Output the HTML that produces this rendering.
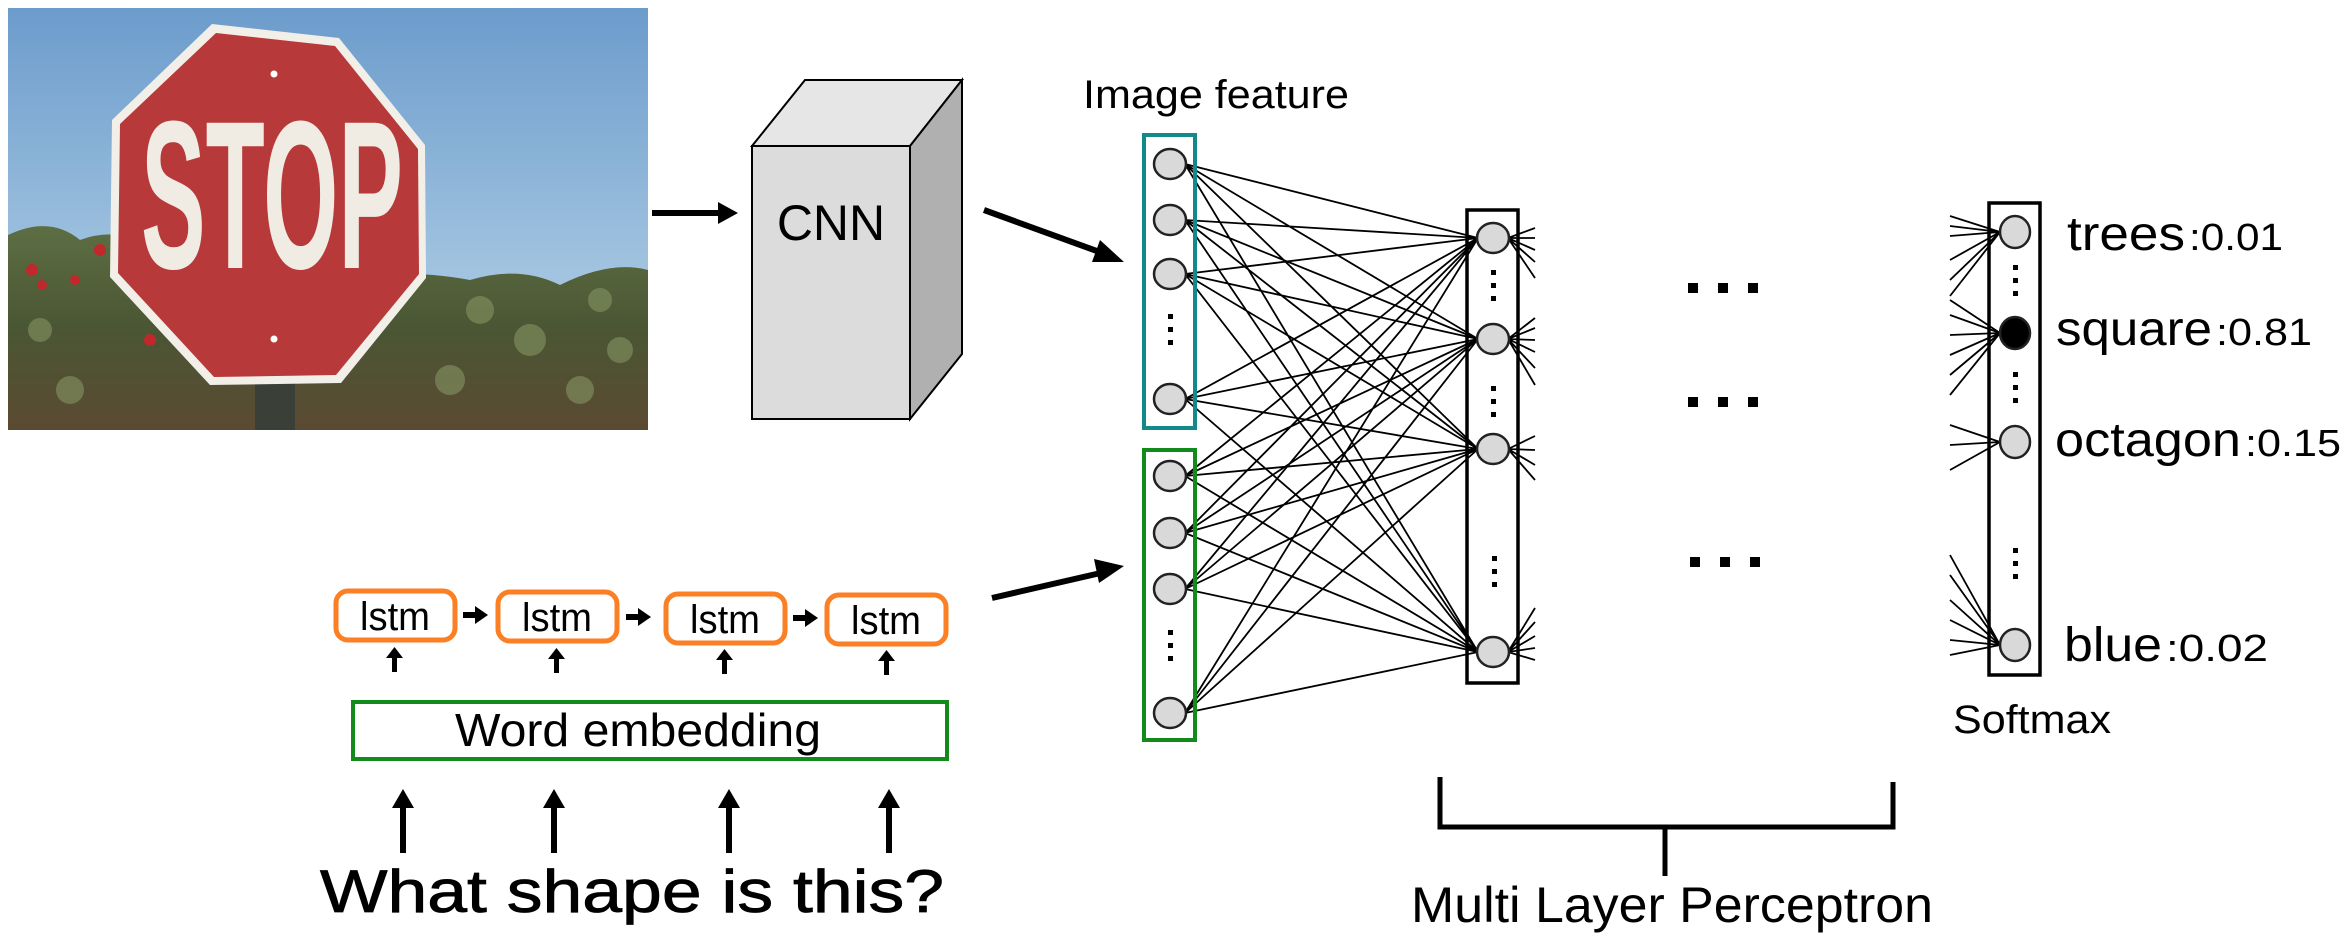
<!DOCTYPE html>
<html><head><meta charset="utf-8"><style>
html,body{margin:0;padding:0;background:#fff;}
svg{display:block;}
</style></head><body>
<svg width="2352" height="944" viewBox="0 0 2352 944" xmlns="http://www.w3.org/2000/svg">
<defs>
<linearGradient id="sky" x1="0" y1="0" x2="0" y2="1">
<stop offset="0" stop-color="#6c9ccc"/><stop offset="0.7" stop-color="#a8c8e2"/><stop offset="1" stop-color="#bcd6e8"/>
</linearGradient>
<linearGradient id="fol" x1="0" y1="0" x2="0" y2="1">
<stop offset="0" stop-color="#5d6e43"/><stop offset="0.5" stop-color="#4a5634"/><stop offset="1" stop-color="#5b4a32"/>
</linearGradient>
</defs>

<rect x="8" y="8" width="640" height="422" fill="url(#sky)"/>
<path d="M8,245 Q60,235 100,250 L160,245 L200,265 L8,280 z" fill="#7a8a98"/>
<path d="M8,235 Q50,215 80,240 Q120,225 160,250 Q260,275 340,275 Q420,270 470,280 Q520,265 560,285 Q610,260 648,270 L648,430 L8,430 z" fill="url(#fol)"/>
<g fill="#8a9a66" opacity="0.55">
<circle cx="480" cy="310" r="14"/><circle cx="530" cy="340" r="16"/><circle cx="600" cy="300" r="12"/><circle cx="450" cy="380" r="15"/><circle cx="580" cy="390" r="14"/><circle cx="620" cy="350" r="13"/><circle cx="40" cy="330" r="12"/><circle cx="70" cy="390" r="14"/>
</g>
<g fill="#c0282c"><circle cx="32" cy="270" r="6"/><circle cx="42" cy="285" r="5"/><circle cx="100" cy="250" r="6"/><circle cx="75" cy="280" r="5"/><circle cx="150" cy="340" r="6"/></g>
<rect x="255" y="380" width="40" height="50" fill="#3a4038"/>
<polygon points="212,24 339,38 425,145 426,278 341,383 210,385 110,277 112,120" fill="#f2efe8"/>
<polygon points="216,33 335,46 418,149 419,274 336,375 214,377 118,273 120,124" fill="#b8393a"/>
<text x="272" y="268" font-family="Liberation Sans, sans-serif" font-weight="bold" font-size="176" fill="#f0ece4" text-anchor="middle" textLength="262" lengthAdjust="spacingAndGlyphs" transform="translate(272,268) scale(1,1.2) translate(-272,-268)">STOP</text>
<circle cx="274" cy="74" r="3.5" fill="#fff"/><circle cx="274" cy="339" r="3.5" fill="#fff"/>

<line x1="652" y1="213" x2="722" y2="213" stroke="#000" stroke-width="6"/>
<polygon points="718,202 738,213 718,224" fill="#000"/>

<polygon points="752,146 805,80 962,80 910,146" fill="#e6e6e6" stroke="#000" stroke-width="2"/>
<polygon points="910,146 962,80 962,354 910,419" fill="#b0b0b0" stroke="#000" stroke-width="2"/>
<rect x="752" y="146" width="158" height="273" fill="#dcdcdc" stroke="#000" stroke-width="2"/>
<text x="831" y="240" font-family="Liberation Sans, sans-serif" font-size="50" text-anchor="middle">CNN</text>

<line x1="984" y1="210" x2="1105" y2="254" stroke="#000" stroke-width="6"/>
<polygon points="1100,240 1124,262 1092,262" fill="#000"/>
<line x1="992" y1="598" x2="1105" y2="572" stroke="#000" stroke-width="6"/>
<polygon points="1094,559 1124,566 1099,583" fill="#000"/>

<text x="1216" y="108" font-family="Liberation Sans, sans-serif" font-size="40" text-anchor="middle" textLength="266" lengthAdjust="spacingAndGlyphs">Image feature</text>

<g stroke="#000" stroke-width="1.8">
<path d="
M1185,164L1478,238 M1185,164L1478,339 M1185,164L1478,449 M1185,164L1478,652
M1185,220L1478,238 M1185,220L1478,339 M1185,220L1478,449 M1185,220L1478,652
M1185,274L1478,238 M1185,274L1478,339 M1185,274L1478,449 M1185,274L1478,652
M1185,399L1478,238 M1185,399L1478,339 M1185,399L1478,449 M1185,399L1478,652
M1185,476L1478,238 M1185,476L1478,339 M1185,476L1478,449 M1185,476L1478,652
M1185,533L1478,238 M1185,533L1478,339 M1185,533L1478,449 M1185,533L1478,652
M1185,589L1478,238 M1185,589L1478,339 M1185,589L1478,449 M1185,589L1478,652
M1185,713L1478,238 M1185,713L1478,339 M1185,713L1478,449 M1185,713L1478,652
M1508,238L1535,228 M1508,238L1535,238 M1508,238L1535,250 M1508,238L1535,262 M1508,238L1535,278
M1508,339L1535,318 M1508,339L1535,328 M1508,339L1535,340 M1508,339L1535,352 M1508,339L1535,368 M1508,339L1535,385
M1508,449L1535,436 M1508,449L1535,450 M1508,449L1535,465 M1508,449L1535,480
M1508,652L1535,608 M1508,652L1535,622 M1508,652L1535,636 M1508,652L1535,648 M1508,652L1535,660
M1950,216L2000,232 M1950,226L2000,232 M1950,236L2000,232 M1950,260L2000,232 M1950,280L2000,232 M1950,296L2000,232
M1950,300L2000,333 M1950,315L2000,333 M1950,335L2000,333 M1950,355L2000,333 M1950,375L2000,333 M1950,395L2000,333
M1950,425L2000,442 M1950,445L2000,442 M1950,470L2000,442
M1950,555L2000,645 M1950,575L2000,645 M1950,600L2000,645 M1950,620L2000,645 M1950,640L2000,645 M1950,655L2000,645
" fill="none"/>
</g>

<rect x="1144" y="135" width="51" height="293" fill="none" stroke="#138a8a" stroke-width="4"/>
<rect x="1144" y="450" width="51" height="290" fill="none" stroke="#138a1c" stroke-width="4"/>
<g fill="#d9d9d9" stroke="#222" stroke-width="2.5">
<ellipse cx="1170" cy="164" rx="16" ry="15"/><ellipse cx="1170" cy="220" rx="16" ry="15"/><ellipse cx="1170" cy="274" rx="16" ry="15"/><ellipse cx="1170" cy="399" rx="16" ry="15"/>
<ellipse cx="1170" cy="476" rx="16" ry="15"/><ellipse cx="1170" cy="533" rx="16" ry="15"/><ellipse cx="1170" cy="589" rx="16" ry="15"/><ellipse cx="1170" cy="713" rx="16" ry="15"/>
</g>
<g fill="#000">
<rect x="1168" y="314" width="5" height="5"/><rect x="1168" y="327" width="5" height="5"/><rect x="1168" y="340" width="5" height="5"/>
<rect x="1168" y="630" width="5" height="5"/><rect x="1168" y="643" width="5" height="5"/><rect x="1168" y="656" width="5" height="5"/>
</g>

<rect x="1467" y="210" width="51" height="473" fill="none" stroke="#000" stroke-width="3.5"/>
<g fill="#d9d9d9" stroke="#222" stroke-width="2.5">
<ellipse cx="1493" cy="238" rx="16" ry="15"/><ellipse cx="1493" cy="339" rx="16" ry="15"/><ellipse cx="1493" cy="449" rx="16" ry="15"/><ellipse cx="1493" cy="652" rx="16" ry="15"/>
</g>
<g fill="#000">
<rect x="1491" y="270" width="5" height="5"/><rect x="1491" y="283" width="5" height="5"/><rect x="1491" y="296" width="5" height="5"/>
<rect x="1491" y="386" width="5" height="5"/><rect x="1491" y="399" width="5" height="5"/><rect x="1491" y="412" width="5" height="5"/>
<rect x="1492" y="556" width="5" height="5"/><rect x="1492" y="569" width="5" height="5"/><rect x="1492" y="582" width="5" height="5"/>
</g>

<g fill="#000">
<rect x="1688" y="283" width="10" height="10"/><rect x="1718" y="283" width="10" height="10"/><rect x="1748" y="283" width="10" height="10"/>
<rect x="1688" y="397" width="10" height="10"/><rect x="1718" y="397" width="10" height="10"/><rect x="1748" y="397" width="10" height="10"/>
<rect x="1690" y="557" width="10" height="10"/><rect x="1720" y="557" width="10" height="10"/><rect x="1750" y="557" width="10" height="10"/>
</g>

<rect x="1989" y="203" width="51" height="472" fill="none" stroke="#000" stroke-width="3.5"/>
<g stroke="#222" stroke-width="2.5">
<ellipse cx="2015" cy="232" rx="15" ry="16" fill="#d9d9d9"/>
<ellipse cx="2015" cy="333" rx="15" ry="16" fill="#000"/>
<ellipse cx="2015" cy="442" rx="15" ry="16" fill="#d9d9d9"/>
<ellipse cx="2015" cy="645" rx="15" ry="16" fill="#d9d9d9"/>
</g>
<g fill="#000">
<rect x="2013" y="265" width="5" height="5"/><rect x="2013" y="278" width="5" height="5"/><rect x="2013" y="291" width="5" height="5"/>
<rect x="2013" y="372" width="5" height="5"/><rect x="2013" y="385" width="5" height="5"/><rect x="2013" y="398" width="5" height="5"/>
<rect x="2013" y="548" width="5" height="5"/><rect x="2013" y="561" width="5" height="5"/><rect x="2013" y="574" width="5" height="5"/>
</g>
<g font-family="Liberation Sans, sans-serif" fill="#000">
<text x="2067" y="250" font-size="48" textLength="118" lengthAdjust="spacingAndGlyphs">trees</text>
<text x="2189" y="250" font-size="38" textLength="94" lengthAdjust="spacingAndGlyphs">:0.01</text>
<text x="2056" y="345" font-size="48" textLength="156" lengthAdjust="spacingAndGlyphs">square</text>
<text x="2216" y="345" font-size="38" textLength="96" lengthAdjust="spacingAndGlyphs">:0.81</text>
<text x="2055" y="456" font-size="48" textLength="186" lengthAdjust="spacingAndGlyphs">octagon</text>
<text x="2245" y="456" font-size="38" textLength="96" lengthAdjust="spacingAndGlyphs">:0.15</text>
<text x="2064" y="661" font-size="48" textLength="98" lengthAdjust="spacingAndGlyphs">blue</text>
<text x="2166" y="661" font-size="38" textLength="102" lengthAdjust="spacingAndGlyphs">:0.02</text>
<text x="1953" y="733" font-size="40" textLength="158" lengthAdjust="spacingAndGlyphs">Softmax</text>
</g>

<g stroke="#000" stroke-width="5" fill="none">
<path d="M1440,777 V827 H1893 V782"/>
<path d="M1665,827 V876"/>
</g>
<text x="1672" y="922" font-family="Liberation Sans, sans-serif" font-size="50" text-anchor="middle" textLength="522" lengthAdjust="spacingAndGlyphs">Multi Layer Perceptron</text>

<g fill="#fff" stroke="#fb7f24" stroke-width="5">
<rect x="336" y="591" width="119" height="49" rx="12"/>
<rect x="498" y="592" width="119" height="49" rx="12"/>
<rect x="666" y="594" width="119" height="49" rx="12"/>
<rect x="827" y="595" width="119" height="49" rx="12"/>
</g>
<g font-family="Liberation Sans, sans-serif" font-size="40" text-anchor="middle">
<text x="395" y="630" textLength="70" lengthAdjust="spacingAndGlyphs">lstm</text>
<text x="557" y="631" textLength="70" lengthAdjust="spacingAndGlyphs">lstm</text>
<text x="725" y="633" textLength="70" lengthAdjust="spacingAndGlyphs">lstm</text>
<text x="886" y="634" textLength="70" lengthAdjust="spacingAndGlyphs">lstm</text>
</g>
<g fill="#000">
<rect x="463" y="612" width="14" height="6"/><polygon points="475,606 488,615 475,624"/>
<rect x="626" y="614" width="14" height="6"/><polygon points="638,608 651,617 638,626"/>
<rect x="793" y="615" width="14" height="6"/><polygon points="805,609 818,618 805,627"/>
<rect x="392" y="656" width="5" height="16"/><polygon points="386,658 394.5,647 403,658"/>
<rect x="554" y="657" width="5" height="16"/><polygon points="548,659 556.5,648 565,659"/>
<rect x="722" y="658" width="5" height="16"/><polygon points="716,660 724.5,649 733,660"/>
<rect x="884" y="659" width="5" height="16"/><polygon points="878,661 886.5,650 895,661"/>
</g>

<rect x="353" y="702" width="594" height="57" fill="#fff" stroke="#138a1c" stroke-width="4"/>
<text x="638" y="746" font-family="Liberation Sans, sans-serif" font-size="46" text-anchor="middle" textLength="366" lengthAdjust="spacingAndGlyphs">Word embedding</text>

<g fill="#000">
<rect x="400" y="806" width="6" height="47"/><polygon points="392,808 403,789 414,808"/>
<rect x="551" y="806" width="6" height="47"/><polygon points="543,808 554,789 565,808"/>
<rect x="726" y="806" width="6" height="47"/><polygon points="718,808 729,789 740,808"/>
<rect x="886" y="806" width="6" height="47"/><polygon points="878,808 889,789 900,808"/>
</g>
<text x="320" y="912" font-family="Liberation Sans, sans-serif" font-size="60" textLength="624" lengthAdjust="spacingAndGlyphs" stroke="#000" stroke-width="0.8">What shape is this?</text>
</svg>
</body></html>
